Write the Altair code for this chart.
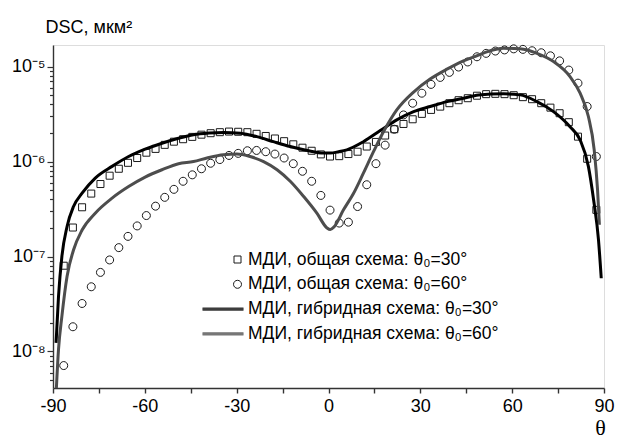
import altair as alt
import pandas as pd

S1 = "МДИ, общая схема: θ₀=30°"
S2 = "МДИ, общая схема: θ₀=60°"
S3 = "МДИ, гибридная схема: θ₀=30°"
S4 = "МДИ, гибридная схема: θ₀=60°"
series = [S1, S2, S3, S4]

theta_pts = [-86.5, -83.5, -80.5, -77.5, -74.5, -71.5, -68.5, -65.5, -62.5, -59.5,
             -56.5, -53.5, -50.5, -47.5, -44.5, -41.5, -38.5, -35.5, -32.5, -29.5,
             -26.5, -23.5, -20.5, -17.5, -14.5, -11.5, -8.5, -5.5, -2.5, 0.5,
             3.5, 6.5, 9.5, 12.5, 15.5, 18.5, 21.5, 24.5, 27.5, 30.5,
             33.5, 36.5, 39.5, 42.5, 45.5, 48.5, 51.5, 54.5, 57.5, 60.5,
             63.5, 66.5, 69.5, 72.5, 75.5, 78.5, 81.5, 84.5, 87.5]

sq30 = [8.0e-8, 2.02e-7, 3.3e-7, 4.6e-7, 5.8e-7, 7.1e-7, 8.4e-7, 9.7e-7, 1.09e-6, 1.24e-6,
        1.36e-6, 1.50e-6, 1.62e-6, 1.72e-6, 1.82e-6, 1.92e-6, 1.99e-6, 2.04e-6, 2.07e-6, 2.06e-6,
        2.04e-6, 1.96e-6, 1.86e-6, 1.75e-6, 1.64e-6, 1.52e-6, 1.40e-6, 1.30e-6, 1.19e-6, 1.13e-6,
        1.14e-6, 1.20e-6, 1.27e-6, 1.44e-6, 1.61e-6, 1.88e-6, 2.19e-6, 2.49e-6, 2.79e-6, 3.18e-6,
        3.50e-6, 3.79e-6, 4.12e-6, 4.43e-6, 4.65e-6, 4.94e-6, 5.13e-6, 5.17e-6, 5.13e-6, 5.0e-6,
        4.77e-6, 4.54e-6, 4.12e-6, 3.70e-6, 3.23e-6, 2.60e-6, 1.83e-6, 1.07e-6, 3.1e-7]

circ60 = [7.1e-9, 1.82e-8, 3.2e-8, 4.8e-8, 6.8e-8, 9.2e-8, 1.24e-7, 1.63e-7, 2.1e-7, 2.7e-7,
          3.39e-7, 4.2e-7, 5.1e-7, 6.2e-7, 7.25e-7, 8.4e-7, 9.6e-7, 1.05e-6, 1.16e-6, 1.22e-6,
          1.30e-6, 1.31e-6, 1.27e-6, 1.20e-6, 1.09e-6, 9.5e-7, 7.9e-7, 6.2e-7, 4.4e-7, 3.08e-7,
          2.25e-7, 2.3e-7, 3.36e-7, 5.7e-7, 9.5e-7, 1.49e-6, 2.19e-6, 3.1e-6, 4.12e-6, 5.25e-6,
          6.5e-6, 7.7e-6, 8.7e-6, 9.9e-6, 1.12e-5, 1.27e-5, 1.38e-5, 1.46e-5, 1.50e-5, 1.54e-5,
          1.52e-5, 1.47e-5, 1.40e-5, 1.30e-5, 1.15e-5, 9.2e-6, 6.7e-6, 3.8e-6, 1.13e-6]

theta_h30 = [-89.0, -88.2, -87.1, -85.4, -83.3, -80.5, -76.2, -70.7, -65.3, -59.9,
             -54.4, -49.0, -44.1, -39.0, -34.3, -28.8, -23.4, -18.0, -12.5, -7.0,
             -1.6, 0.6, 3.3, 6.0, 11.4, 16.9, 22.3, 27.8, 33.2, 38.7,
             44.1, 49.0, 57.2, 62.6, 68.1, 73.5, 78.9, 82.2, 84.9, 86.6,
             88.2, 89.1]
hyb30 = [1.23e-8, 3.8e-8, 1.0e-7, 2.07e-7, 3.36e-7, 4.64e-7, 6.7e-7, 8.9e-7, 1.13e-6, 1.35e-6,
         1.56e-6, 1.76e-6, 1.92e-6, 2.0e-6, 2.03e-6, 1.99e-6, 1.83e-6, 1.62e-6, 1.44e-6, 1.31e-6,
         1.23e-6, 1.23e-6, 1.27e-6, 1.33e-6, 1.62e-6, 2.12e-6, 2.75e-6, 3.36e-6, 3.8e-6, 4.28e-6,
         4.65e-6, 5.03e-6, 5.17e-6, 5.04e-6, 4.28e-6, 3.36e-6, 2.33e-6, 1.69e-6, 8.9e-7, 3.96e-7,
         1.5e-7, 5.9e-8]

theta_h60 = [-89.0, -88.2, -87.1, -85.4, -83.3, -80.5, -76.2, -70.7, -65.3, -59.9,
             -54.4, -49.0, -44.1, -39.7, -34.3, -29.9, -25.6, -21.2, -16.8, -12.5,
             -8.1, -3.8, -0.5, 0.6, 1.8, 4.9, 8.2, 11.4, 14.7, 18.0,
             22.3, 27.8, 33.2, 38.7, 44.1, 49.0, 51.7, 57.2, 62.6, 68.1,
             73.5, 78.9, 82.2, 84.9, 86.8, 87.9, 88.5]
hyb60 = [3.5e-9, 1.05e-8, 2.34e-8, 6.2e-8, 1.17e-7, 1.9e-7, 2.86e-7, 4.12e-7, 5.45e-7, 6.86e-7,
         8.2e-7, 9.5e-7, 1.0e-6, 1.09e-6, 1.18e-6, 1.20e-6, 1.13e-6, 1.0e-6, 8.2e-7, 6.2e-7,
         4.28e-7, 2.86e-7, 2.0e-7, 1.92e-7, 2.05e-7, 3.1e-7, 4.64e-7, 7.55e-7, 1.27e-6, 2.07e-6,
         3.5e-6, 5.4e-6, 7.4e-6, 9.4e-6, 1.15e-5, 1.32e-5, 1.43e-5, 1.56e-5, 1.54e-5, 1.38e-5,
         1.13e-5, 7.85e-6, 5.25e-6, 2.98e-6, 1.33e-6, 5.0e-7, 2.16e-7]

x_ticks = [-90, -75, -60, -45, -30, -15, 0, 15, 30, 45, 60, 75, 90]
y_ticks = [5e-9, 6e-9, 7e-9, 8e-9, 9e-9,
           1e-8, 2e-8, 3e-8, 4e-8, 5e-8, 6e-8, 7e-8, 8e-8, 9e-8,
           1e-7, 2e-7, 3e-7, 4e-7, 5e-7, 6e-7, 7e-7, 8e-7, 9e-7,
           1e-6, 2e-6, 3e-6, 4e-6, 5e-6, 6e-6, 7e-6, 8e-6, 9e-6,
           1e-5]

rows = []
for t, v in zip(theta_pts, sq30):
    rows.append({"theta": t, "dsc": v, "series": S1, "kind": "pt"})
for t, v in zip(theta_pts, circ60):
    rows.append({"theta": t, "dsc": v, "series": S2, "kind": "pt"})
for t, v in zip(theta_h30, hyb30):
    rows.append({"theta": t, "dsc": v, "series": S3, "kind": "ln"})
for t, v in zip(theta_h60, hyb60):
    rows.append({"theta": t, "dsc": v, "series": S4, "kind": "ln"})
df = pd.DataFrame(rows)

FONT = "Liberation Sans"
# symbol paths (unit = sqrt(size)/2 = 10 px with size 400)
LINE_PATH = "M-3.5,-0.1H0.6M-3.5,0H0.6M-3.5,0.1H0.6"
PT_SQUARE = "M-0.35,-0.35H0.35V0.35H-0.35Z"
PT_CIRCLE = "M-0.4,0A0.4,0.4 0 1,1 0.4,0A0.4,0.4 0 1,1 -0.4,0Z"

color_scale = alt.Scale(domain=series, range=["#1a1a1a", "#1a1a1a", "#000000", "#4d4d4d"])
shape_scale = alt.Scale(domain=series, range=[PT_SQUARE, PT_CIRCLE, LINE_PATH, LINE_PATH])

legend = alt.Legend(title=None, orient="none", legendX=174, legendY=204, padding=0,
                    labelFont=FONT, labelFontSize=17.5, labelColor="#000", labelOffset=0,
                    rowPadding=5.8, labelLimit=400, symbolStrokeWidth=1,
                    symbolSize=400)

decade = "abs(log(datum.value)/LN10 - round(log(datum.value)/LN10)) < 0.001"
e = "round(log(datum.value)/LN10)"
ylabel = (f"{decade} ? ({e} == -5 ? '10⁻⁵' : {e} == -6 ? '10⁻⁶' : {e} == -7 ? '10⁻⁷' : "
          f"{e} == -8 ? '10⁻⁸' : '') : ''")

xaxis = alt.Axis(values=x_ticks, labelExpr="datum.value % 30 == 0 ? '' + datum.value : ''",
                 grid=False, tickSize=5, labelPadding=4, labelFontSize=18, labelFont=FONT,
                 labelColor="#000", domainColor="#333", tickColor="#333", domainWidth=1.4,
                 tickWidth=1.4, title="θ", titleFont="Liberation Serif", titleFontSize=22,
                 titleFontWeight="normal", titleX=547, titleY=46, titleAlign="center",
                 titleBaseline="alphabetic", titleColor="#000", labelFlush=False)

yaxis = alt.Axis(values=y_ticks, labelExpr=ylabel, grid=False,
                 tickSize={"condition": {"test": decade, "value": 6}, "value": 3.5},
                 labelPadding=2, labelFontSize=18, labelFont=FONT, labelColor="#000",
                 domainColor="#333", tickColor="#333", domainWidth=1.4, tickWidth=1.2,
                 title="DSC, мкм²", titleFont=FONT, titleFontSize=18, titleFontWeight="normal",
                 titleAngle=0, titleAlign="left", titleBaseline="alphabetic", titleX=-8,
                 titleY=-13, titleColor="#000", labelFlush=False, labelOverlap=False)

x = alt.X("theta:Q", scale=alt.Scale(domain=[-90, 90], nice=False, zero=False), axis=xaxis)
y = alt.Y("dsc:Q", scale=alt.Scale(type="log", domain=[4.12e-9, 1.69e-5], nice=False), axis=yaxis)

points = alt.Chart(df).transform_filter(alt.datum.kind == "pt").mark_point(
    filled=False, opacity=1, size=400, strokeWidth=1
).encode(
    x=x, y=y,
    color=alt.Color("series:N", scale=color_scale, legend=legend),
    shape=alt.Shape("series:N", scale=shape_scale, legend=legend),
)

lines = alt.Chart(df).transform_filter(alt.datum.kind == "ln").mark_line(
    interpolate="monotone", clip=True, strokeWidth=3
).encode(
    x=x, y=y,
    color=alt.Color("series:N", scale=color_scale, legend=legend),
)

chart = alt.layer(points, lines).properties(
    width=551, height=343,
    autosize=alt.AutoSizeParams(type="none"),
    padding={"left": 45, "top": 37, "right": 18, "bottom": 52},
).configure_view(stroke=None).configure(background="white")

chart.save("out.html", embed_options={"renderer": "svg", "actions": False})
